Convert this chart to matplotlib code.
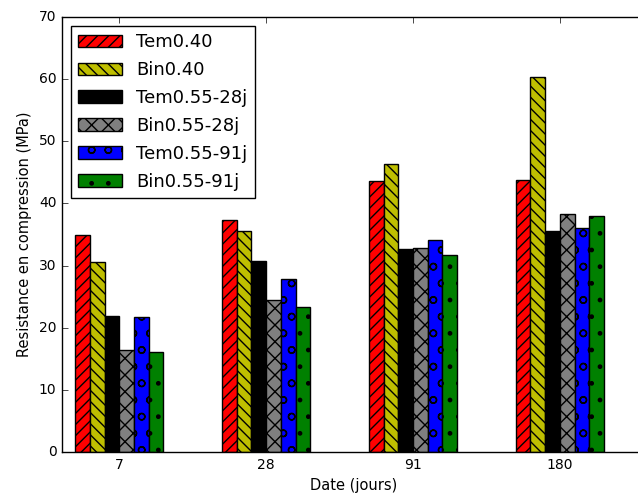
import numpy as np
import matplotlib
matplotlib.use('Agg')
import matplotlib.pyplot as plt

plt.style.use('classic')

dates = ['7', '28', '91', '180']
series = ['Tem0.40', 'Bin0.40', 'Tem0.55-28j', 'Bin0.55-28j', 'Tem0.55-91j', 'Bin0.55-91j']

tem040 = [34.9, 37.4, 43.6, 43.8]
bin040 = [30.5, 35.5, 46.3, 60.4]
tem055_28 = [21.9, 30.8, 32.6, 35.5]
bin055_28 = [16.4, 24.5, 32.9, 38.3]
tem055_91 = [21.8, 27.9, 34.1, 36.0]
bin055_91 = [16.1, 23.4, 31.7, 38.0]

values = [tem040, bin040, tem055_28, bin055_28, tem055_91, bin055_91]
colors = ['r', 'y', 'k', 'gray', 'b', 'g']
hatches = ['///', '\\\\\\', '', 'xx', 'o', '.']

fig = plt.figure(figsize=(6.38, 4.93), dpi=100)
fig.patch.set_facecolor('white')
# axes runs past the right edge, like the cropped original
ax = fig.add_axes([0.0972, 0.0832, 0.9138, 0.8824])

ind = np.arange(len(dates))
width = 0.1
for i in range(len(series)):
    ax.bar(ind + (i - 2.5) * width, values[i], width, color=colors[i],
           hatch=hatches[i], edgecolor='k', label=series[i])

ax.set_xticks(ind)
ax.set_xticklabels(dates)
ax.set_xlim(-0.39, 3.58)
ax.set_ylim(0, 70)
ax.tick_params(labelsize=10)
ax.set_xlabel('Date (jours)', fontsize=10.5)
ax.set_ylabel('Resistance en compression (MPa)', fontsize=10.5)
ax.legend(loc='upper left', fontsize=13, handlelength=2.4, labelspacing=0.55)

fig.savefig('out.png', dpi=100, facecolor='white')
